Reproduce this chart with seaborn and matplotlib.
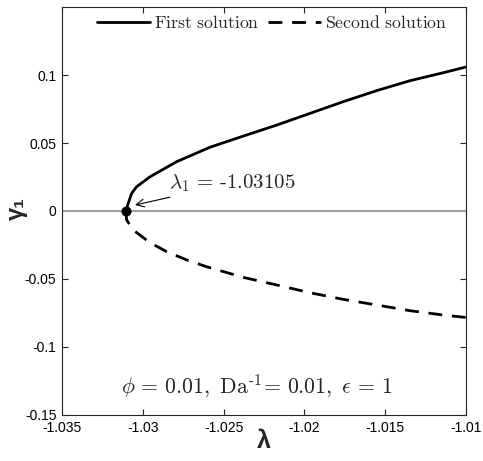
import matplotlib
matplotlib.use("Agg")
import matplotlib.pyplot as plt
import seaborn as sns
import pandas as pd

# Data
lam_first = [-1.03105, -1.03090, -1.03069, -1.03038, -1.02955, -1.02790, -1.02584,
             -1.02378, -1.02171, -1.01965, -1.01759, -1.01553, -1.01347, -1.01140, -1.01000]
gam_first = [0.0, 0.0057, 0.0130, 0.0179, 0.0252, 0.0363, 0.0469,
             0.0551, 0.0632, 0.0718, 0.0804, 0.0885, 0.0958, 0.1017, 0.1059]

lam_second = [-1.03105, -1.03100, -1.03059, -1.02955, -1.02852, -1.02728, -1.02605,
              -1.02378, -1.02171, -1.01965, -1.01759, -1.01553, -1.01347, -1.01140, -1.01000]
gam_second = [0.0, -0.0066, -0.0140, -0.0233, -0.0299, -0.0360, -0.0410,
              -0.0488, -0.0544, -0.0601, -0.0650, -0.0691, -0.0733, -0.0765, -0.0783]

lam_crit = -1.03105
x_ticks = [-1.035, -1.03, -1.025, -1.02, -1.015, -1.01]
x_ticklabels = ["-1.035", "-1.03", "-1.025", "-1.02", "-1.015", "-1.01"]
y_ticks = [-0.15, -0.1, -0.05, 0, 0.05, 0.1]
y_ticklabels = ["-0.15", "-0.1", "-0.05", "0", "0.05", "0.1"]

sns.set_style("ticks")
plt.rcParams["font.family"] = ["Liberation Sans", "DejaVu Sans"]
plt.rcParams["mathtext.fontset"] = "cm"

df1 = pd.DataFrame({"lam": lam_first, "gam": gam_first})
df2 = pd.DataFrame({"lam": lam_second, "gam": gam_second})

fig = plt.figure(figsize=(4.83, 4.61), dpi=100)
ax = fig.add_axes([0.1284, 0.0998, 0.8364, 0.885])

ax.axhline(0, color="#a0a0a0", lw=1.5, zorder=1)
sns.lineplot(data=df1, x="lam", y="gam", sort=False, estimator=None, ax=ax,
             color="black", lw=2.0, label=r"$\mathrm{First\ solution}$")
sns.lineplot(data=df2, x="lam", y="gam", sort=False, estimator=None, ax=ax,
             color="black", lw=2.0, linestyle=(0, (5, 3.5)), label=r"$\mathrm{Second\ solution}$")
sns.scatterplot(x=[lam_crit], y=[0.0], ax=ax, color="black", s=45, zorder=5,
                edgecolor="black", legend=False)

ax.annotate(r"$\lambda_1\,=\,\text{-1.03105}$",
            xy=(-1.03048, 0.0044), xytext=(-1.02835, 0.0205),
            fontsize=15, ha="left", va="center",
            arrowprops=dict(arrowstyle="->", color="black", lw=0.8,
                            shrinkA=0, shrinkB=0, mutation_scale=14))

ax.text(-1.02293, -0.1286,
        r"$\phi\,=\,0.01,\ \mathrm{Da}^{\text{-1}}\!=\,0.01,\ \epsilon\,=\,1$",
        fontsize=15.7, ha="center", va="center")

ax.set_xlim(-1.035, -1.01)
ax.set_ylim(-0.15, 0.15)
ax.set_xticks(x_ticks)
ax.set_xticklabels(x_ticklabels)
ax.set_yticks(y_ticks)
ax.set_yticklabels(y_ticklabels)
ax.tick_params(direction="in", top=True, right=True, length=4, width=0.8,
               labelsize=10, colors="#262626", labelcolor="black", pad=4)
for s in ax.spines.values():
    s.set_linewidth(0.8)
    s.set_color("#262626")

ax.set_xlabel("λ", fontsize=18, fontweight="bold")
ax.xaxis.set_label_coords(0.5, -0.035)
ax.set_ylabel("γ₁", fontsize=17, fontweight="bold")
ax.yaxis.set_label_coords(-0.085, 0.505)

leg = ax.legend(loc="upper center", ncol=2, frameon=False, fontsize=12.8,
                handlelength=3.0, handletextpad=0.2, columnspacing=0.5,
                bbox_to_anchor=(0.52, 1.01), borderaxespad=0.3)

fig.savefig("out.png", dpi=100)
